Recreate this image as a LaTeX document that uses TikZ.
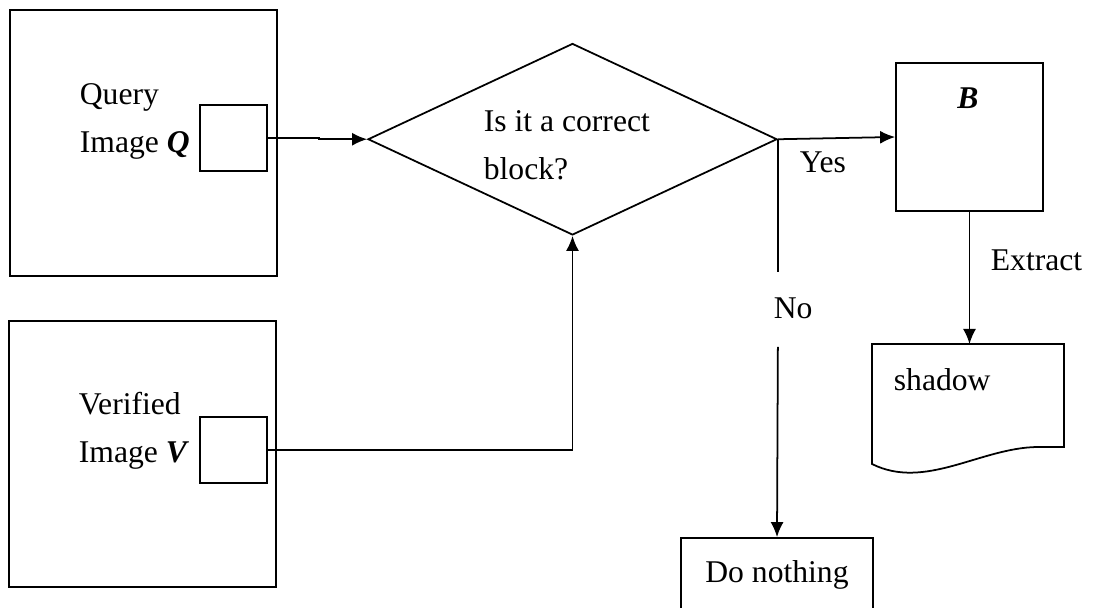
\documentclass[tikz,border=0pt]{standalone}
\usepackage{fontspec}
\setmainfont{Liberation Serif}
\usetikzlibrary{shapes.geometric,arrows.meta}
\begin{document}
\begin{tikzpicture}[
    font=\fontsize{18}{27.5}\selectfont,
    line width=1pt,
    kasten/.style={draw, inner sep=0pt},
    beschr/.style={inner sep=0pt, align=left},
    pfeil/.style={-{Latex[length=0.3cm, width=0.26cm]}}
  ]
  \clip (0,0) rectangle (21.88,12.16);
  \node[kasten, minimum width=5.34cm, minimum height=5.32cm] (qbild) at (2.87,9.30) {};
  \node[kasten, minimum width=1.34cm, minimum height=1.32cm] (qblock) at (4.67,9.40) {};
  \node[beschr, anchor=base west] (qtext) at (1.58,9.10) {Query\\Image \textbf{\textit{Q}}};
  \node[kasten, minimum width=5.34cm, minimum height=5.32cm] (vbild) at (2.85,3.08) {};
  \node[kasten, minimum width=1.34cm, minimum height=1.32cm] (vblock) at (4.67,3.16) {};
  \node[beschr, anchor=base west] (vtext) at (1.56,2.90) {Verified\\Image \textbf{\textit{V}}};
  \node[kasten, diamond, minimum width=8.18cm, minimum height=3.83cm] (frage) at (11.45,9.375) {};
  \node[beschr, anchor=base west] (fragetext) at (9.66,8.56) {Is it a correct\\block?};
  \node[kasten, minimum width=2.94cm, minimum height=2.96cm] (bblock) at (19.39,9.42) {};
  \node[anchor=base, inner sep=0pt] (btext) at (19.36,9.98) {\textbf{\textit{B}}};
  \node[kasten, anchor=base, minimum width=3.84cm, text height=0.6cm, text depth=1cm, inner ysep=0.3cm] (nichts) at (15.54,0.50) {Do nothing};
  \node[anchor=base west, inner sep=0pt, text height=0.92cm, text depth=0.54cm] (nein) at (15.46,5.78) {No};
  \node[anchor=base west, inner sep=0pt] (ja) at (15.98,8.70) {Yes};
  \node[anchor=base west, inner sep=0pt] (extr) at (19.80,6.74) {Extract};
  \draw (17.44,2.88) -- (17.44,5.28) -- (21.28,5.28) -- (21.28,3.22) -- (20.74,3.22)
    .. controls (19.6,3.2) and (18.5,2.35) .. (17.44,2.88) -- cycle;
  \coordinate (doktop) at (19.39,5.28);
  \node[anchor=base west, inner sep=0pt] (schatten) at (17.86,4.34) {shadow};
  \draw[pfeil] (qblock.east) -- ++(1.02,0) |- (frage.west);
  \draw[pfeil] (vblock.east) -| (frage.south);
  \draw[pfeil] (frage.east) -- (bblock.west);
  \draw (frage.east) -- (frage.east |- nein.north);
  \draw[pfeil] (frage.east |- nein.south) -- (nichts.north);
  \draw[pfeil] (bblock.south) -- (doktop);
\end{tikzpicture}
\end{document}
